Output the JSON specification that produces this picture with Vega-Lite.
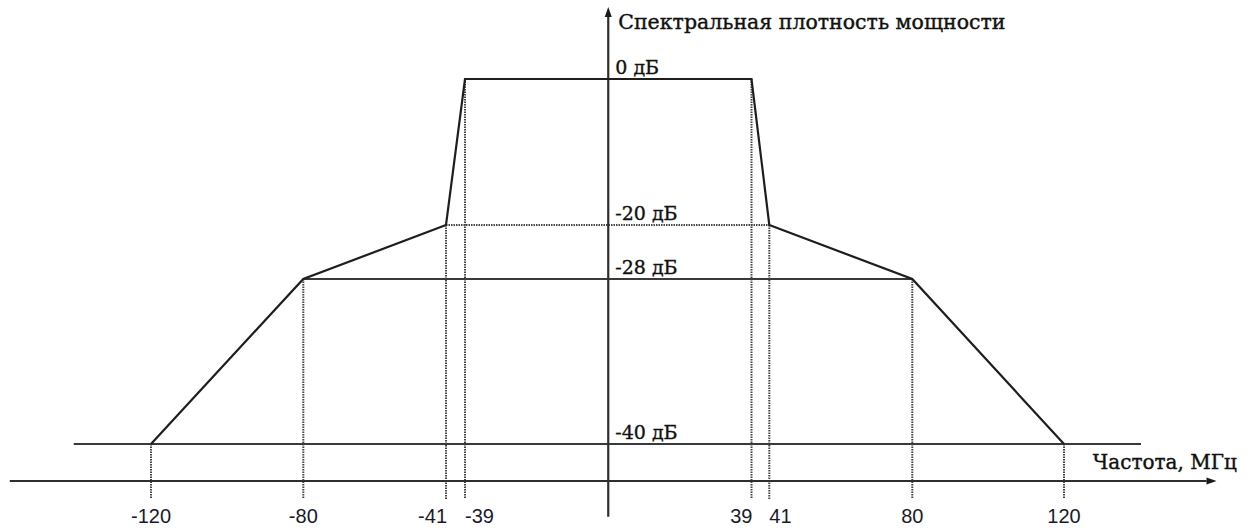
{
  "$schema": "https://vega.github.io/schema/vega-lite/v6.json",
  "width": 1254,
  "height": 530,
  "autosize": {"type": "none"},
  "padding": 0,
  "background": "white",
  "config": {"view": {"stroke": null}, "axis": {"disable": true}},
  "datasets": {
    "mask": [
      {"f": -120, "db": -40, "tick": "-120"},
      {"f": -80, "db": -28, "tick": "-80"},
      {"f": -41, "db": -20, "tick": "-41"},
      {"f": -39, "db": 0, "tick": "-39"},
      {"f": 39, "db": 0, "tick": "39"},
      {"f": 41, "db": -20, "tick": "41"},
      {"f": 80, "db": -28, "tick": "80"},
      {"f": 120, "db": -40, "tick": "120"}
    ],
    "solidLevels": [
      {"f": -80, "f2": 80, "db": -28},
      {"f": -140.3, "f2": 140.3, "db": -40}
    ],
    "dottedLevels": [
      {"f": -41, "f2": 41, "db": -20}
    ],
    "levelLabels": [
      {"db": 0, "label": "0 дБ"},
      {"db": -20, "label": "-20 дБ"},
      {"db": -28, "label": "-28 дБ"},
      {"db": -40, "label": "-40 дБ"}
    ],
    "axisX": [{"f": -157.1, "f2": 157.6, "db": -42.69}],
    "axisY": [{"f": 0, "db": -45.29, "db2": 8.5}],
    "arrowX": [{"f": 158.9, "db": -42.69}],
    "arrowY": [{"f": 0, "db": 9.18}],
    "yTitle": [{"label": "Спектральная плотность мощности"}],
    "xTitle": [{"label": "Частота, МГц"}]
  },
  "layer": [
    {
      "data": {"name": "mask"},
      "mark": {"type": "rule", "color": "#444444", "strokeWidth": 2, "strokeDash": [1.5, 1]},
      "encoding": {
        "x": {"field": "f", "type": "quantitative", "axis": null,
              "scale": {"type": "linear", "domain": [-120, -80, -41, -39, 39, 41, 80, 120],
                        "range": [151, 303.3, 446, 465, 751.5, 769.3, 912.3, 1064], "nice": false, "zero": false}},
        "y": {"field": "db", "type": "quantitative", "axis": null,
              "scale": {"type": "linear", "domain": [-40, -28, -20, 0], "range": [444, 279, 225, 79], "nice": false, "zero": false}},
        "y2": {"datum": -44}
      }
    },
    {
      "data": {"name": "dottedLevels"},
      "mark": {"type": "rule", "color": "#444444", "strokeWidth": 2, "strokeDash": [1.5, 1]},
      "encoding": {
        "x": {"field": "f", "type": "quantitative", "axis": null},
        "x2": {"field": "f2"},
        "y": {"field": "db", "type": "quantitative", "axis": null}
      }
    },
    {
      "data": {"name": "solidLevels"},
      "mark": {"type": "rule", "color": "#3a3a3a", "strokeWidth": 2.2},
      "encoding": {
        "x": {"field": "f", "type": "quantitative", "axis": null},
        "x2": {"field": "f2"},
        "y": {"field": "db", "type": "quantitative", "axis": null}
      }
    },
    {
      "data": {"name": "axisX"},
      "mark": {"type": "rule", "color": "#2e2e2e", "strokeWidth": 2.2},
      "encoding": {
        "x": {"field": "f", "type": "quantitative", "axis": null},
        "x2": {"field": "f2"},
        "y": {"field": "db", "type": "quantitative", "axis": null}
      }
    },
    {
      "data": {"name": "axisY"},
      "mark": {"type": "rule", "color": "#2e2e2e", "strokeWidth": 2.2},
      "encoding": {
        "x": {"field": "f", "type": "quantitative", "axis": null},
        "y": {"field": "db", "type": "quantitative", "axis": null},
        "y2": {"field": "db2"}
      }
    },
    {
      "data": {"name": "arrowX"},
      "mark": {"type": "point", "filled": true, "color": "#1a1a1a", "opacity": 1, "size": 100,
               "shape": "M-1,-0.7L1,0L-1,0.7Z"},
      "encoding": {
        "x": {"field": "f", "type": "quantitative", "axis": null},
        "y": {"field": "db", "type": "quantitative", "axis": null}
      }
    },
    {
      "data": {"name": "arrowY"},
      "mark": {"type": "point", "filled": true, "color": "#1a1a1a", "opacity": 1, "size": 100,
               "shape": "M-0.7,1L0,-1L0.7,1Z"},
      "encoding": {
        "x": {"field": "f", "type": "quantitative", "axis": null},
        "y": {"field": "db", "type": "quantitative", "axis": null}
      }
    },
    {
      "data": {"name": "mask"},
      "mark": {"type": "line", "color": "#1e1e1e", "strokeWidth": 2.2},
      "encoding": {
        "x": {"field": "f", "type": "quantitative", "axis": null},
        "y": {"field": "db", "type": "quantitative", "axis": null}
      }
    },
    {
      "data": {"name": "mask"},
      "transform": [{"filter": {"field": "f", "oneOf": [-120, -80, 80, 120]}}],
      "mark": {"type": "text", "font": "Liberation Sans", "fontSize": 20, "fontWeight": "normal", "color": "#1a1a2a", "align": "center", "baseline": "alphabetic"},
      "encoding": {
        "x": {"field": "f", "type": "quantitative", "axis": null},
        "y": {"datum": -45.75, "type": "quantitative"},
        "text": {"field": "tick"}
      }
    },
    {
      "data": {"name": "mask"},
      "transform": [{"filter": {"field": "f", "oneOf": [-41, 39]}}],
      "mark": {"type": "text", "font": "Liberation Sans", "fontSize": 20, "fontWeight": "normal", "color": "#1a1a2a", "align": "right", "baseline": "alphabetic", "dx": 1},
      "encoding": {
        "x": {"field": "f", "type": "quantitative", "axis": null},
        "y": {"datum": -45.75, "type": "quantitative"},
        "text": {"field": "tick"}
      }
    },
    {
      "data": {"name": "mask"},
      "transform": [{"filter": {"field": "f", "oneOf": [-39, 41]}}],
      "mark": {"type": "text", "font": "Liberation Sans", "fontSize": 20, "fontWeight": "normal", "color": "#1a1a2a", "align": "left", "baseline": "alphabetic", "dx": 0},
      "encoding": {
        "x": {"field": "f", "type": "quantitative", "axis": null},
        "y": {"datum": -45.75, "type": "quantitative"},
        "text": {"field": "tick"}
      }
    },
    {
      "data": {"name": "levelLabels"},
      "mark": {"type": "text", "font": "DejaVu Serif", "fontSize": 19, "fontWeight": "normal", "color": "#111111", "stroke": "#111111", "strokeWidth": 0.35, "align": "left", "baseline": "alphabetic", "dx": 7, "dy": -5},
      "encoding": {
        "x": {"datum": 0, "type": "quantitative"},
        "y": {"field": "db", "type": "quantitative", "axis": null},
        "text": {"field": "label"}
      }
    },
    {
      "data": {"name": "yTitle"},
      "mark": {"type": "text", "font": "DejaVu Serif", "fontSize": 20.5, "fontWeight": "normal", "color": "#111111", "stroke": "#111111", "strokeWidth": 0.4, "align": "left", "baseline": "alphabetic", "dx": 10, "dy": 7},
      "encoding": {
        "x": {"datum": 0, "type": "quantitative"},
        "y": {"datum": 7.85, "type": "quantitative"},
        "text": {"field": "label"}
      }
    },
    {
      "data": {"name": "xTitle"},
      "mark": {"type": "text", "font": "DejaVu Serif", "fontSize": 20, "fontWeight": "normal", "color": "#111111", "stroke": "#111111", "strokeWidth": 0.4, "align": "left", "baseline": "alphabetic", "dy": 7},
      "encoding": {
        "x": {"datum": 127.6, "type": "quantitative"},
        "y": {"datum": -41.29, "type": "quantitative"},
        "text": {"field": "label"}
      }
    }
  ]
}
